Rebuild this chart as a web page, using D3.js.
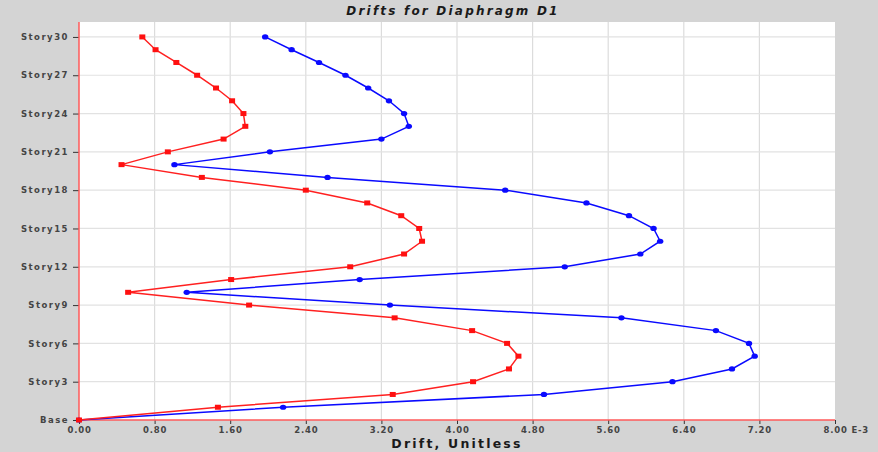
<!DOCTYPE html>
<html>
<head>
<meta charset="utf-8">
<script src="https://cdn.jsdelivr.net/npm/d3@7"></script>
<style>
    body { margin: 0; background: #d4d4d4; }
    svg { display: block; }
    .tick text { font-family: "DejaVu Sans", Verdana, sans-serif; font-size: 8.5px; font-weight: bold; fill: #444; }
    .x-axis .tick text { letter-spacing: 0.8px; }
    .y-axis .tick text { letter-spacing: 1.5px; }
    .tick line { stroke: #333; }
    .domain { display: none; }
</style>
</head>
<body>
<div class="chart"></div>
<script>
// story index 0 = Base ... 30 = Story30
var storyTicks = [0, 3, 6, 9, 12, 15, 18, 21, 24, 27, 30];
var storyTickLabels = ["Base", "Story3", "Story6", "Story9", "Story12", "Story15",
    "Story18", "Story21", "Story24", "Story27", "Story30"];
var driftTicks = [0, 0.8, 1.6, 2.4, 3.2, 4.0, 4.8, 5.6, 6.4, 7.2, 8.0];

// drift (E-3), from Base up to Story30
var driftRed = [0, 1.47, 3.32, 4.17, 4.55, 4.65, 4.53, 4.16, 3.34, 1.80,
    0.52, 1.61, 2.87, 3.44, 3.63, 3.60, 3.41, 3.05, 2.40, 1.30,
    0.45, 0.94, 1.53, 1.76, 1.74, 1.62, 1.45, 1.25, 1.03, 0.81, 0.67];
var driftBlue = [0, 2.16, 4.92, 6.28, 6.91, 7.15, 7.09, 6.74, 5.74, 3.29,
    1.14, 2.97, 5.14, 5.94, 6.15, 6.08, 5.82, 5.37, 4.51, 2.63,
    1.01, 2.02, 3.20, 3.49, 3.44, 3.28, 3.06, 2.82, 2.54, 2.25, 1.97];

var svgWidth = 878;
var svgHeight = 452;
var margin = { top: 22, right: 43, bottom: 32, left: 79 };
var width = svgWidth - margin.left - margin.right;
var height = svgHeight - margin.top - margin.bottom;

var svg = d3.select(".chart")
    .append("svg")
    .attr("width", svgWidth)
    .attr("height", svgHeight);

svg.append("rect")
    .attr("width", svgWidth)
    .attr("height", svgHeight)
    .attr("fill", "#d4d4d4");

svg.append("text")
    .attr("x", 453)
    .attr("y", 14.5)
    .attr("text-anchor", "middle")
    .style("font-family", "DejaVu Sans, Verdana, sans-serif")
    .style("font-size", "12px")
    .style("font-weight", "bold")
    .style("font-style", "italic")
    .style("letter-spacing", "2.2px")
    .attr("fill", "#1a1a1a")
    .text("Drifts for Diaphragm D1");

var chart = svg.append("g")
    .attr("transform", "translate(" + margin.left + "," + margin.top + ")");

var xLinearScale = d3.scaleLinear().domain([0, 8]).range([0, width]);
var yLinearScale = d3.scaleLinear().domain([0, 31.17]).range([height, 0]);

chart.append("rect")
    .attr("width", width)
    .attr("height", height)
    .attr("fill", "#ffffff");

// grid
chart.append("g")
    .selectAll("line")
    .data(driftTicks.slice(1, -1))
    .enter()
    .append("line")
    .attr("x1", function(d) { return xLinearScale(d); })
    .attr("x2", function(d) { return xLinearScale(d); })
    .attr("y1", 0)
    .attr("y2", height)
    .attr("stroke", "#dcdcdc")
    .attr("stroke-width", 1.2);

chart.append("g")
    .selectAll("line")
    .data(storyTicks.slice(1))
    .enter()
    .append("line")
    .attr("x1", 0)
    .attr("x2", width)
    .attr("y1", function(d) { return yLinearScale(d); })
    .attr("y2", function(d) { return yLinearScale(d); })
    .attr("stroke", "#e2e2e2")
    .attr("stroke-width", 1.2);

// axes
var bottomAxis = d3.axisBottom(xLinearScale)
    .tickValues(driftTicks)
    .tickSize(4)
    .tickPadding(3)
    .tickFormat(d3.format(".2f"));

var leftAxis = d3.axisLeft(yLinearScale)
    .tickValues(storyTicks)
    .tickSize(6)
    .tickPadding(4)
    .tickFormat(function(d, i) { return storyTickLabels[i]; });

var xAxisG = chart.append("g")
    .attr("class", "x-axis")
    .attr("transform", "translate(0," + height + ")")
    .call(bottomAxis);

xAxisG.selectAll(".tick text")
    .filter(function(d) { return d === 8; })
    .attr("text-anchor", "start")
    .attr("x", -12)
    .text("8.00 E-3");

chart.append("g")
    .attr("class", "y-axis")
    .call(leftAxis);

chart.append("line")
    .attr("x1", 0).attr("x2", 0)
    .attr("y1", 0).attr("y2", height)
    .attr("stroke", "#ff5a5a")
    .attr("stroke-width", 1.5);

chart.append("line")
    .attr("x1", 0).attr("x2", width)
    .attr("y1", height).attr("y2", height)
    .attr("stroke", "#ff5a5a")
    .attr("stroke-width", 1.5);

svg.append("text")
    .attr("x", 457)
    .attr("y", 448)
    .attr("text-anchor", "middle")
    .style("font-family", "DejaVu Sans, Verdana, sans-serif")
    .style("font-size", "12.5px")
    .style("font-weight", "bold")
    .style("letter-spacing", "2.2px")
    .attr("fill", "#1a1a1a")
    .text("Drift, Unitless");

// series
var line = d3.line()
    .x(function(d) { return xLinearScale(d); })
    .y(function(d, i) { return yLinearScale(i); });

chart.append("path")
    .datum(driftBlue)
    .attr("fill", "none")
    .attr("stroke", "#0a0aff")
    .attr("stroke-width", 1.5)
    .attr("d", line);

chart.selectAll(".blue-dot")
    .data(driftBlue)
    .enter()
    .append("ellipse")
    .attr("class", "blue-dot")
    .attr("cx", function(d) { return xLinearScale(d); })
    .attr("cy", function(d, i) { return yLinearScale(i); })
    .attr("rx", 3.2)
    .attr("ry", 2.6)
    .attr("fill", "#0a0aff");

chart.append("path")
    .datum(driftRed)
    .attr("fill", "none")
    .attr("stroke", "#ff2020")
    .attr("stroke-width", 1.5)
    .attr("d", line);

chart.selectAll(".red-dot")
    .data(driftRed)
    .enter()
    .append("rect")
    .attr("class", "red-dot")
    .attr("x", function(d) { return xLinearScale(d) - 3; })
    .attr("y", function(d, i) { return yLinearScale(i) - 2.5; })
    .attr("width", 6)
    .attr("height", 5)
    .attr("fill", "#ff1010");
</script>
</body>
</html>
